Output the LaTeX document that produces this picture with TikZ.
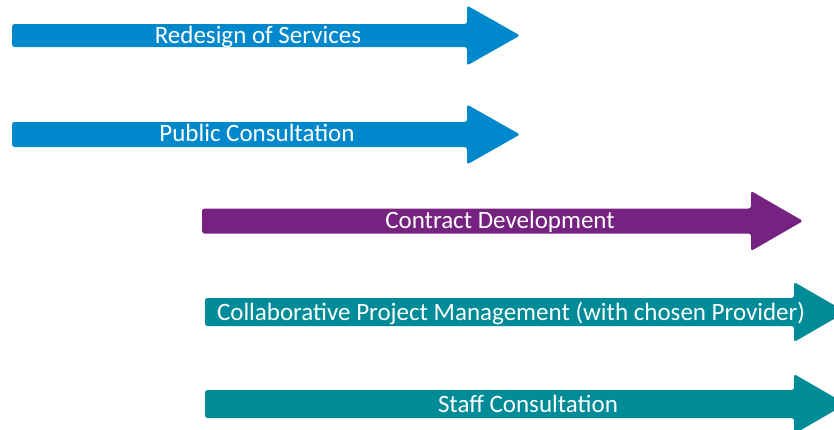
\documentclass[tikz,border=0pt]{standalone}
\usepackage{fontspec}
\setmainfont{Carlito}
\usepackage{tikz}

\definecolor{phaseblue}{RGB}{0,136,204}
\definecolor{phasepurple}{RGB}{118,34,128}
\definecolor{phaseteal}{RGB}{0,139,152}

\tikzset{
	phase/.style={fill=#1, draw=none, rounded corners=2.5pt},
	phaselabel/.style={text=white, font=\fontsize{25}{30}\selectfont, anchor=base, inner sep=0pt}
}

\begin{document}
\begin{tikzpicture}[x=1pt,y=-1pt]
	\useasboundingbox (0,0) rectangle (834,429);
	\foreach \xa/\xb/\xt/\yc/\h/\col in {12/467/520/35.5/11.5/phaseblue,
		12/467/520/134.5/12.5/phaseblue,
		202/751/803/221/12.5/phasepurple,
		205/794/846/312/14/phaseteal,
		205/794/846/404/14/phaseteal}
		{
		\fill[phase=\col] (\xa,\yc-\h) -- (\xb,\yc-\h) -- (\xb,\yc-30) -- (\xt,\yc)
			-- (\xb,\yc+30) -- (\xb,\yc+\h) -- (\xa,\yc+\h) -- cycle;
		}

	\node[phaselabel] (redesign) at (258,43.5) {Redesign of Services};
	\node[phaselabel] (public) at (257,141.5) {Public Consultation};
	\node[phaselabel] (contract) at (500,228.5) {Contract Development};
	\node[phaselabel] (collab) at (511,320) {Collaborative Project Management (with chosen Provider)};
	\node[phaselabel] (staff) at (528,412) {Staff Consultation};
\end{tikzpicture}
\end{document}
